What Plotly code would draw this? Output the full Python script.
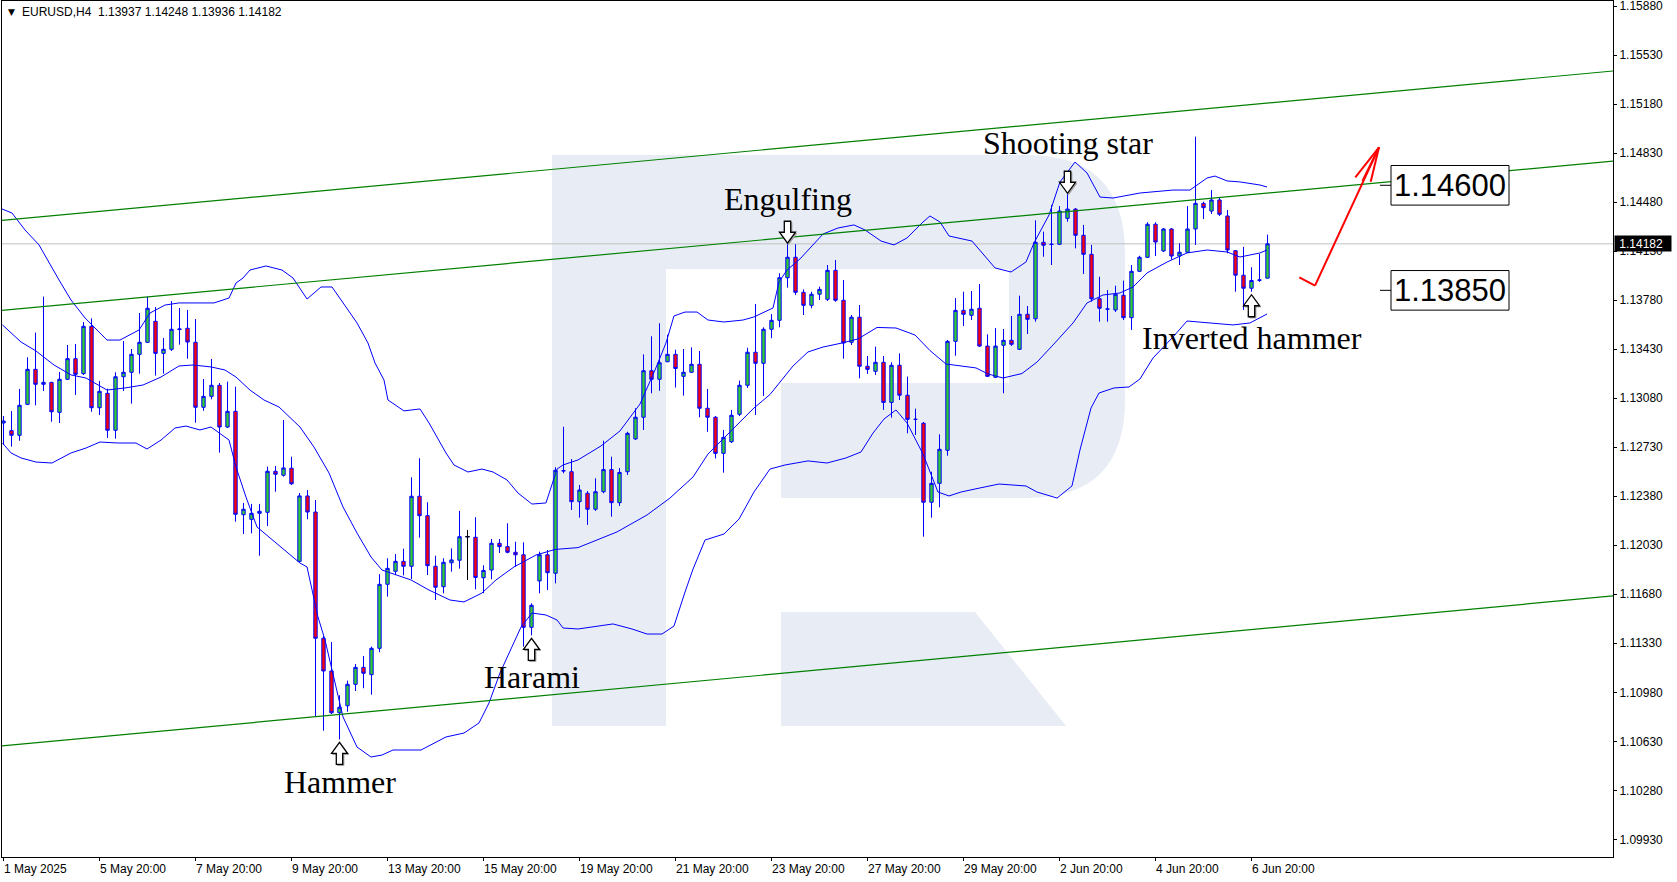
import plotly.graph_objects as go

# ---------------- data (EURUSD H4) ----------------
bars = list(range(159))
opens = [
1.12903, 1.12848, 1.12815, 1.13036, 1.13286, 1.13179, 1.13193, 1.12979, 1.13215, 1.13362,
1.13255, 1.13593, 1.13012, 1.13115, 1.12851, 1.13233, 1.13265, 1.13393, 1.13479, 1.13629,
1.13400, 1.13429, 1.13570, 1.13579, 1.13479, 1.13015, 1.13093, 1.13172, 1.12874, 1.12986,
1.12248, 1.12215, 1.12258, 1.12265, 1.12558, 1.12530, 1.12580, 1.11915, 1.12382, 1.12267,
1.11366, 1.11132, 1.10834, 1.10884, 1.11037, 1.11158, 1.11106, 1.11294, 1.11751, 1.11844,
1.11915, 1.11880, 1.12380, 1.12241, 1.11880, 1.11734, 1.11905, 1.11923, 1.12091, 1.12087,
1.11798, 1.11853, 1.12044, 1.12020, 1.11980, 1.11962, 1.11444, 1.11775, 1.11962, 1.11830,
1.12560, 1.12555, 1.12341, 1.12401, 1.12287, 1.12412, 1.12570, 1.12334, 1.12555, 1.12789,
1.12944, 1.13276, 1.13215, 1.13340, 1.13393, 1.13236, 1.13265, 1.13322, 1.13008, 1.12944,
1.12686, 1.12769, 1.12965, 1.13172, 1.13408, 1.13329, 1.13572, 1.13636, 1.13940, 1.14086,
1.13836, 1.13743, 1.13822, 1.13786, 1.13993, 1.13779, 1.13479, 1.13658, 1.13308, 1.13272,
1.13336, 1.13050, 1.13315, 1.13101, 1.12929, 1.12901, 1.12337, 1.12472, 1.12708, 1.13486,
1.13707, 1.13672, 1.13722, 1.13452, 1.13229, 1.13458, 1.13493, 1.13429, 1.13679, 1.13647,
1.14193, 1.14177, 1.14179, 1.14364, 1.14430, 1.14243, 1.14107, 1.13790, 1.13715, 1.13710,
1.13815, 1.13655, 1.13986, 1.14086, 1.14322, 1.14131, 1.14288, 1.14095, 1.14122, 1.14288,
1.14471, 1.14416, 1.14495, 1.14381, 1.14133, 1.13958, 1.13865, 1.13922, 1.13937]
highs = [
1.12953, 1.12988, 1.13146, 1.13372, 1.13548, 1.13805, 1.13196, 1.13267, 1.13460, 1.13467,
1.13624, 1.13650, 1.13203, 1.13148, 1.13265, 1.13488, 1.13431, 1.13688, 1.13805, 1.13731,
1.13510, 1.13774, 1.13724, 1.13710, 1.13645, 1.13217, 1.13360, 1.13188, 1.13198, 1.13162,
1.12332, 1.12325, 1.12325, 1.12591, 1.12596, 1.12924, 1.12662, 1.12403, 1.12424, 1.12353,
1.11382, 1.11339, 1.10959, 1.11063, 1.11182, 1.11239, 1.11306, 1.11823, 1.11937, 1.11967,
1.12005, 1.12515, 1.12651, 1.12337, 1.11955, 1.11937, 1.12008, 1.12275, 1.12139, 1.12230,
1.11887, 1.12075, 1.12075, 1.12187, 1.12055, 1.12051, 1.11615, 1.11984, 1.11996, 1.12587,
1.12876, 1.12646, 1.12460, 1.12417, 1.12508, 1.12776, 1.12662, 1.12581, 1.12840, 1.13008,
1.13393, 1.13522, 1.13615, 1.13533, 1.13426, 1.13431, 1.13443, 1.13417, 1.13146, 1.12953,
1.12853, 1.12996, 1.13205, 1.13440, 1.13752, 1.13586, 1.13681, 1.13972, 1.14179, 1.14179,
1.13857, 1.13840, 1.13876, 1.14031, 1.14067, 1.13924, 1.13674, 1.13745, 1.13381, 1.13448,
1.13381, 1.13336, 1.13400, 1.13234, 1.13005, 1.12910, 1.12555, 1.12822, 1.13495, 1.13795,
1.13840, 1.13845, 1.13895, 1.13536, 1.13580, 1.13574, 1.13667, 1.13812, 1.13738, 1.14350,
1.14269, 1.14460, 1.14452, 1.14536, 1.14437, 1.14317, 1.14174, 1.13947, 1.13852, 1.13883,
1.13919, 1.14031, 1.14097, 1.14336, 1.14336, 1.14295, 1.14295, 1.14186, 1.14452, 1.14947,
1.14483, 1.14566, 1.14514, 1.14424, 1.14138, 1.14160, 1.14015, 1.14110, 1.14248]
lows = [
1.12746, 1.12734, 1.12776, 1.13031, 1.13029, 1.13131, 1.12912, 1.12903, 1.13210, 1.13103,
1.13246, 1.12983, 1.12960, 1.12796, 1.12791, 1.13131, 1.13041, 1.13255, 1.13474, 1.13241,
1.13255, 1.13417, 1.13462, 1.13362, 1.12905, 1.12990, 1.13072, 1.12691, 1.12867, 1.12198,
1.12110, 1.12115, 1.11955, 1.12167, 1.12412, 1.12520, 1.12460, 1.11910, 1.12215, 1.10806,
1.10706, 1.10825, 1.10644, 1.10841, 1.10989, 1.11009, 1.10963, 1.11266, 1.11663, 1.11817,
1.11815, 1.11789, 1.12084, 1.11817, 1.11639, 1.11687, 1.11841, 1.11863, 1.11782, 1.11715,
1.11687, 1.11787, 1.11975, 1.11972, 1.11877, 1.11306, 1.11387, 1.11687, 1.11710, 1.11758,
1.12544, 1.12282, 1.12227, 1.12175, 1.12275, 1.12401, 1.12234, 1.12310, 1.12532, 1.12781,
1.12853, 1.13115, 1.13133, 1.13338, 1.13156, 1.13098, 1.13260, 1.12944, 1.12840, 1.12650,
1.12548, 1.12760, 1.12953, 1.13153, 1.12960, 1.13096, 1.13508, 1.13586, 1.13869, 1.13817,
1.13674, 1.13722, 1.13781, 1.13774, 1.13769, 1.13362, 1.13460, 1.13222, 1.13253, 1.13246,
1.12996, 1.12941, 1.13067, 1.12829, 1.12817, 1.12091, 1.12227, 1.12301, 1.12669, 1.13383,
1.13595, 1.13638, 1.13447, 1.13234, 1.13224, 1.13115, 1.13453, 1.13424, 1.13538, 1.13626,
1.14090, 1.14031, 1.14174, 1.14340, 1.14150, 1.13967, 1.13769, 1.13626, 1.13626, 1.13695,
1.13638, 1.13567, 1.13981, 1.14081, 1.14095, 1.14124, 1.14070, 1.14031, 1.14117, 1.14174,
1.14359, 1.14395, 1.14381, 1.14115, 1.13840, 1.13710, 1.13840, 1.13910, 1.13936]
closes = [
1.12917, 1.12815, 1.13029, 1.13286, 1.13179, 1.13193, 1.12983, 1.13215, 1.13362, 1.13250,
1.13593, 1.13012, 1.13129, 1.12851, 1.13233, 1.13265, 1.13393, 1.13479, 1.13722, 1.13400,
1.13429, 1.13572, 1.13574, 1.13481, 1.13015, 1.13093, 1.13172, 1.12874, 1.12986, 1.12251,
1.12287, 1.12258, 1.12272, 1.12558, 1.12537, 1.12582, 1.12469, 1.12382, 1.12267, 1.11366,
1.11132, 1.10834, 1.10873, 1.11037, 1.11158, 1.11116, 1.11294, 1.11751, 1.11865, 1.11915,
1.11880, 1.12380, 1.12241, 1.11884, 1.11730, 1.11908, 1.11925, 1.12091, 1.12091, 1.11800,
1.11850, 1.12044, 1.12020, 1.11980, 1.11962, 1.11444, 1.11601, 1.11962, 1.11834, 1.12565,
1.12562, 1.12341, 1.12424, 1.12287, 1.12412, 1.12570, 1.12334, 1.12550, 1.12829, 1.12944,
1.13276, 1.13215, 1.13333, 1.13393, 1.13292, 1.13265, 1.13322, 1.13008, 1.12944, 1.12686,
1.12800, 1.12958, 1.13172, 1.13408, 1.13329, 1.13572, 1.13636, 1.13940, 1.14086, 1.13836,
1.13743, 1.13822, 1.13857, 1.13993, 1.13779, 1.13474, 1.13658, 1.13308, 1.13286, 1.13336,
1.13050, 1.13315, 1.13101, 1.12929, 1.12929, 1.12337, 1.12472, 1.12715, 1.13486, 1.13707,
1.13679, 1.13715, 1.13452, 1.13236, 1.13452, 1.13493, 1.13465, 1.13679, 1.13643, 1.14193,
1.14172, 1.14179, 1.14416, 1.14430, 1.14243, 1.14107, 1.13790, 1.13722, 1.13717, 1.13822,
1.13655, 1.13986, 1.14086, 1.14322, 1.14195, 1.14288, 1.14095, 1.14122, 1.14288, 1.14471,
1.14440, 1.14495, 1.14393, 1.14138, 1.13958, 1.13865, 1.13920, 1.13924, 1.14182]
doji_bar = 58   # open == close, drawn black in the terminal

# Bollinger bands: (bar position, price)
bb_upper = [(-0.19,1.14431),(1.06,1.14402),(2.69,1.14281),(4.44,1.14174),(6.94,1.13924),(8.44,1.13781),
 (10.19,1.13653),(12.94,1.13495),(14.56,1.13495),(16.94,1.13567),(18.31,1.13688),(20.19,1.13745),
 (21.94,1.13760),(26.31,1.13760),(28.19,1.13795),(29.06,1.13902),(29.94,1.13938),(30.81,1.13995),
 (32.81,1.14024),(34.81,1.13995),(36.19,1.13938),(37.94,1.13788),(39.69,1.13874),(41.06,1.13874),
 (42.81,1.13731),(44.19,1.13617),(45.56,1.13474),(46.44,1.13331),(47.56,1.13210),(48.06,1.13067),
 (50.06,1.12989),(52.06,1.13003),(53.19,1.12903),(55.31,1.12689),(56.31,1.12603),(58.06,1.12553),
 (59.81,1.12574),(61.19,1.12553),(62.94,1.12496),(64.31,1.12403),(66.06,1.12324),(67.81,1.12332),
 (69.19,1.12574),(69.94,1.12603),(71.81,1.12639),(74.69,1.12739),(77.06,1.12846),(79.56,1.13038),
 (81.44,1.13281),(82.81,1.13474),(83.81,1.13667),(85.19,1.13695),(86.69,1.13695),(88.06,1.13638),
 (90.06,1.13624),(92.44,1.13638),(93.81,1.13660),(96.19,1.13724),(96.94,1.13910),(97.94,1.13995),
 (99.56,1.14074),(102.44,1.14252),(104.31,1.14295),(106.31,1.14317),(107.69,1.14281),(109.69,1.14202),
 (111.31,1.14174),(112.94,1.14224),(114.94,1.14338),(115.81,1.14381),(117.06,1.14338),(118.19,1.14238),
 (121.06,1.14202),(122.56,1.14102),(123.94,1.14010),(125.94,1.13981),(127.81,1.14052),(128.81,1.14188),
 (130.69,1.14388),(132.06,1.14624),(133.94,1.14766),(135.44,1.14688),(137.06,1.14516),(138.69,1.14509),
 (142.06,1.14545),(146.19,1.14566),(148.31,1.14566),(150.44,1.14652),(151.44,1.14666),(152.94,1.14631),
 (154.56,1.14624),(157.06,1.14602),(157.94,1.14588)]
bb_middle = [(-0.13,1.13603),(2.19,1.13481),(4.06,1.13417),(6.31,1.13317),(8.44,1.13246),(10.31,1.13224),
 (12.94,1.13138),(15.19,1.13153),(17.44,1.13174),(19.69,1.13231),(21.94,1.13310),(23.69,1.13317),
 (25.94,1.13303),(27.69,1.13281),(29.06,1.13231),(30.81,1.13138),(32.56,1.13067),(34.44,1.13017),
 (37.06,1.12874),(38.81,1.12731),(40.69,1.12546),(42.44,1.12303),(44.19,1.12117),(45.94,1.11946),
 (47.31,1.11853),(50.94,1.11782),(53.19,1.11710),(55.81,1.11639),(57.56,1.11625),(59.81,1.11689),
 (61.56,1.11782),(63.81,1.11875),(66.56,1.11960),(68.94,1.12000),(71.81,1.12013),(74.19,1.12067),
 (76.69,1.12125),(80.44,1.12246),(83.31,1.12367),(86.19,1.12517),(88.06,1.12681),(90.94,1.12846),
 (93.81,1.13010),(95.81,1.13106),(98.69,1.13310),(100.56,1.13410),(102.44,1.13445),(104.81,1.13474),
 (106.81,1.13503),(109.19,1.13585),(111.56,1.13581),(113.94,1.13531),(115.81,1.13420),(117.81,1.13324),
 (119.69,1.13310),(121.56,1.13296),(123.06,1.13253),(124.94,1.13224),(127.31,1.13256),(129.19,1.13338),
 (131.19,1.13460),(133.69,1.13617),(135.44,1.13760),(137.44,1.13817),(139.56,1.13831),(141.19,1.13874),
 (142.94,1.13974),(145.44,1.14052),(147.94,1.14117),(150.44,1.14138),(152.94,1.14124),(154.56,1.14088),
 (157.06,1.14117),(157.94,1.14138)]
bb_lower = [(-0.13,1.12760),(0.94,1.12689),(2.19,1.12653),(4.06,1.12624),(6.06,1.12617),(8.44,1.12689),
 (10.31,1.12724),(12.06,1.12767),(14.31,1.12760),(16.56,1.12760),(17.94,1.12717),(19.69,1.12781),
 (21.44,1.12867),(22.81,1.12881),(24.56,1.12853),(25.94,1.12874),(28.19,1.12781),(29.06,1.12589),
 (30.31,1.12374),(31.69,1.12160),(37.06,1.11903),(37.94,1.11875),(39.31,1.11518),(40.19,1.11353),
 (42.44,1.10804),(44.19,1.10589),(45.94,1.10518),(47.31,1.10532),(48.69,1.10568),(52.19,1.10568),
 (55.31,1.10661),(57.56,1.10689),(59.44,1.10761),(60.69,1.10904),(62.06,1.11118),(64.69,1.11446),
 (66.06,1.11546),(67.81,1.11532),(69.19,1.11496),(69.94,1.11439),(71.81,1.11432),(74.19,1.11453),
 (76.19,1.11468),(78.56,1.11432),(80.44,1.11396),(82.31,1.11396),(83.81,1.11453),(85.19,1.11696),
 (86.19,1.11860),(87.69,1.12067),(90.06,1.12110),(91.94,1.12217),(93.81,1.12410),(95.81,1.12574),
 (97.69,1.12603),(100.56,1.12632),(102.94,1.12617),(105.31,1.12653),(107.19,1.12696),(108.69,1.12831),
 (110.06,1.12931),(111.56,1.12996),(112.94,1.12903),(114.94,1.12681),(116.81,1.12410),(118.19,1.12382),
 (119.69,1.12410),(122.06,1.12439),(124.44,1.12467),(127.81,1.12453),(129.19,1.12410),(131.69,1.12367),
 (133.56,1.12453),(134.56,1.12710),(135.94,1.13010),(136.94,1.13117),(138.81,1.13153),(140.69,1.13160),
 (142.06,1.13217),(143.69,1.13367),(146.19,1.13517),(147.94,1.13631),(150.44,1.13617),(153.69,1.13603),
 (155.81,1.13617),(157.06,1.13653),(157.94,1.13681)]

# channel trend lines (price at left and right edge of the chart)
channel_x = [-0.1875, 201.1875]
channel_upper = [1.14349, 1.15416]
channel_middle = [1.13707, 1.14773]
channel_lower = [1.10597, 1.11668]

current_price = 1.14182
level_labels = [1.14600, 1.13850]

date_tick_bars = [0, 12, 24, 36, 48, 60, 72, 84, 96, 108, 120, 132, 144, 156]
date_tick_labels = ["1 May 2025", "5 May 20:00", "7 May 20:00", "9 May 20:00", "13 May 20:00",
                    "15 May 20:00", "19 May 20:00", "21 May 20:00", "23 May 20:00", "27 May 20:00",
                    "29 May 20:00", "2 Jun 20:00", "4 Jun 20:00", "6 Jun 20:00"]
price_ticks = [1.09930, 1.10280, 1.10630, 1.10980, 1.11330, 1.11680, 1.12030, 1.12380, 1.12730,
               1.13080, 1.13430, 1.13780, 1.14130, 1.14480, 1.14830, 1.15180, 1.15530, 1.15880]

patterns = [("Engulfing", 98, "down"), ("Shooting star", 133, "down"), ("Harami", 66, "up"),
            ("Hammer", 42, "up"), ("Inverted hammer", 156, "up")]

# ---------------- geometry helpers ----------------
W, H = 1677, 882
PL, PR, PT, PB = 2, 1613, 1, 857          # plot area in pixels
XMIN = -0.1875
XMAX = XMIN + (PR - PL) / 8.0
YTOP = 1.15923 - 0.0000714 * PT
YBOT = 1.15923 - 0.0000714 * PB

def fx(x):
    return (x - PL) / (PR - PL)

def fy(y):
    return (PB - y) / (PB - PT)

def P(x, y):
    return f"{fx(x):.5f},{fy(y):.5f}"

def bar_px(i):
    return PL + (i - XMIN) * 8.0

def price_py(p):
    return PT + (YTOP - p) / (YTOP - YBOT) * (PB - PT)

BLUE = "#0000FF"
GREEN = "#32CD32"
RED = "#FF0000"
WM = "#E8EDF5"

fig = go.Figure()

fig.add_trace(go.Candlestick(
    x=bars, open=opens, high=highs, low=lows, close=closes,
    increasing=dict(line=dict(color=BLUE, width=1), fillcolor=GREEN),
    decreasing=dict(line=dict(color=BLUE, width=1), fillcolor=RED),
    whiskerwidth=0, hoverinfo="skip", showlegend=False))

# black doji
fig.add_trace(go.Scatter(x=[doji_bar, doji_bar], y=[lows[doji_bar], highs[doji_bar]], mode="lines",
                         line=dict(color="black", width=1), hoverinfo="skip", showlegend=False))
fig.add_trace(go.Scatter(x=[doji_bar - 0.3, doji_bar + 0.3], y=[opens[doji_bar], closes[doji_bar]],
                         mode="lines", line=dict(color="black", width=1), hoverinfo="skip", showlegend=False))

for band in (bb_upper, bb_middle, bb_lower):
    fig.add_trace(go.Scatter(x=[b[0] for b in band], y=[b[1] for b in band], mode="lines",
                             line=dict(color=BLUE, width=1), hoverinfo="skip", showlegend=False))

for ch in (channel_upper, channel_middle, channel_lower):
    fig.add_trace(go.Scatter(x=channel_x, y=ch, mode="lines", line=dict(color="#008000", width=1.2),
                             hoverinfo="skip", showlegend=False))

shapes = []
# watermark logo "R"
stem = f"M {P(552,155)} L {P(666,155)} L {P(666,726)} L {P(552,726)} Z"
bowl = (f"M {P(666,155)} L {P(1027,155)} Q {P(1125,155)} {P(1125,253)} L {P(1125,400)} "
        f"Q {P(1125,498)} {P(1027,498)} L {P(781,498)} L {P(781,383)} L {P(1009,383)} "
        f"L {P(1009,269)} L {P(666,269)} Z")
leg = f"M {P(781,612)} L {P(975,612)} L {P(1066,726)} L {P(781,726)} Z"
for pth in (stem, bowl, leg):
    shapes.append(dict(type="path", path=pth, xref="paper", yref="paper", fillcolor=WM,
                       line=dict(width=0), layer="below"))
# current price line
shapes.append(dict(type="line", xref="paper", yref="y", x0=0, x1=1, y0=current_price, y1=current_price,
                   line=dict(color="#C0C0C0", width=1), layer="below"))

# red forecast arrow
red_pts = [((1299.3, 277.3), (1315, 285.7)), ((1315, 285.7), (1379, 147.3)),
           ((1379, 147.3), (1355.3, 177.3)), ((1379, 147.3), (1370.7, 181.7)),
           ((1379, 147.3), (1362.5, 181.0))]
for (a, b) in red_pts:
    shapes.append(dict(type="line", xref="paper", yref="paper", x0=fx(a[0]), y0=fy(a[1]),
                       x1=fx(b[0]), y1=fy(b[1]), line=dict(color=RED, width=2)))

# level label boxes
for lv in level_labels:
    cy = price_py(lv)
    shapes.append(dict(type="line", xref="paper", yref="paper", x0=fx(1380), x1=fx(1391),
                       y0=fy(cy), y1=fy(cy), line=dict(color="black", width=1)))
    shapes.append(dict(type="rect", xref="paper", yref="paper", x0=fx(1391), x1=fx(1509),
                       y0=fy(cy - 19.8), y1=fy(cy + 19.8), fillcolor="white",
                       line=dict(color="black", width=1)))

# hollow pattern arrows
def arrow_path(cx, tip, down):
    w, h, sw, hh = 8.0, 22.0, 3.2, 11.0
    s = 1 if down else -1
    pts = [(cx - sw, tip - s * h), (cx + sw, tip - s * h), (cx + sw, tip - s * hh), (cx + w, tip - s * hh),
           (cx, tip), (cx - w, tip - s * hh), (cx - sw, tip - s * hh)]
    return "M " + " L ".join(P(x, y) for x, y in pts) + " Z"

annotations = []
label_centers = {"Engulfing": 199, "Shooting star": 143, "Harami": 677, "Hammer": 782, "Inverted hammer": 338}
for name, b, d in patterns:
    cx = bar_px(b)
    if d == "down":
        tip = price_py(highs[b]) - 1
    else:
        tip = price_py(lows[b]) + 3
    shapes.append(dict(type="path", path=arrow_path(cx + 1.2, tip + 1.2, d == "down"),
                       xref="paper", yref="paper", fillcolor="#A0A0A0", line=dict(color="#A0A0A0", width=1)))
    shapes.append(dict(type="path", path=arrow_path(cx, tip, d == "down"), xref="paper", yref="paper",
                       fillcolor="white", line=dict(color="black", width=1.3)))
    annotations.append(dict(text=name, x=fx(cx), y=fy(label_centers[name]), xref="paper", yref="paper",
                            xanchor="center", yanchor="middle", showarrow=False,
                            font=dict(family="Liberation Serif, Times New Roman, serif", size=32, color="black")))

for lv in level_labels:
    annotations.append(dict(text=f"{lv:.5f}", x=fx(1450), y=lv, xref="paper", yref="y",
                            xanchor="center", yanchor="middle", showarrow=False,
                            font=dict(family="Liberation Sans, Arial, sans-serif", size=31, color="black")))

# date labels (left aligned at the tick, like the terminal)
for b, t in zip(date_tick_bars, date_tick_labels):
    annotations.append(dict(text=t, x=b, y=fy(869.5), xref="x", yref="paper", xanchor="left",
                            yanchor="middle", showarrow=False, xshift=-2,
                            font=dict(family="Liberation Sans, Arial, sans-serif", size=12, color="black")))

# header
annotations.append(dict(text="\u25BC", x=fx(6), y=fy(12.5), xref="paper", yref="paper", xanchor="left",
                        yanchor="middle", showarrow=False, font=dict(family="DejaVu Sans", size=9, color="black")))
annotations.append(dict(text="EURUSD,H4\u00a0\u00a01.13937 1.14248 1.13936 1.14182", x=fx(20), y=fy(12.5),
                        xref="paper", yref="paper", xanchor="left", yanchor="middle", showarrow=False,
                        font=dict(family="Liberation Sans, Arial, sans-serif", size=12, color="black")))

# current price tag on the price scale
annotations.append(dict(text="\u00a01.14182", x=fx(1614), y=current_price, xref="paper", yref="y",
                        xanchor="left", yanchor="middle", showarrow=False, width=54, height=13,
                        align="left", bgcolor="black", borderpad=1,
                        font=dict(family="Liberation Sans, Arial, sans-serif", size=12, color="white")))

fig.update_layout(
    width=W, height=H, margin=dict(l=PL, r=W - PR, t=PT, b=H - PB),
    paper_bgcolor="white", plot_bgcolor="white", showlegend=False, boxgap=0.4,
    shapes=shapes, annotations=annotations,
    xaxis=dict(range=[XMIN, XMAX], rangeslider=dict(visible=False), showgrid=False, zeroline=False,
               showline=True, linecolor="black", linewidth=1, mirror=True, ticks="outside", ticklen=3,
               tickcolor="black", tickvals=date_tick_bars, showticklabels=False, fixedrange=True,
               automargin=False),
    yaxis=dict(side="right", range=[YBOT, YTOP], showgrid=False, zeroline=False, showline=True,
               linecolor="black", linewidth=1, mirror=True, ticks="outside", ticklen=3, tickcolor="black",
               tickvals=price_ticks, ticktext=[f"{v:.5f}" for v in price_ticks], ticklabeloverflow="allow",
               tickfont=dict(family="Liberation Sans, Arial, sans-serif", size=12, color="black"),
               fixedrange=True, automargin=False),
)

fig.write_html("out.html", config={"displayModeBar": False},
               post_script="document.body.style.margin='0';document.body.style.overflow='hidden';")
